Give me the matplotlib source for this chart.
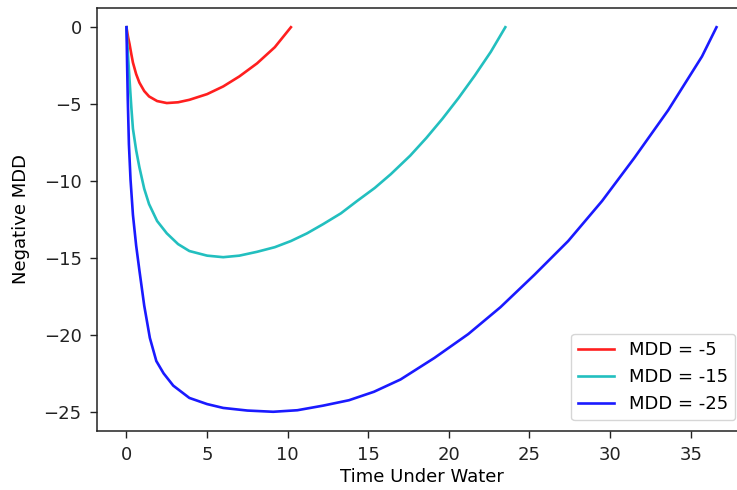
import matplotlib
matplotlib.use("Agg")
import matplotlib.pyplot as plt

t_red = [0, 0.05, 0.1, 0.19, 0.3, 0.4, 0.6, 0.8, 1.1, 1.4, 1.9, 2.5, 3.2, 3.9, 5.0, 6.0, 7.0, 8.1, 9.2, 10.2]
y_red = [0, -0.35, -0.65, -1.1, -1.75, -2.3, -3.05, -3.6, -4.15, -4.5, -4.8, -4.93, -4.88, -4.72, -4.35, -3.85, -3.2, -2.35, -1.3, 0]

t_cyan = [0, 0.05, 0.1, 0.2, 0.3, 0.4, 0.6, 0.8, 1.1, 1.4, 1.9, 2.5, 3.2, 3.9, 5.0, 6.0, 7.0, 8.1, 9.2, 10.2, 11.2, 12.2, 13.3, 14.3, 15.4, 16.4, 17.6, 18.6, 19.6, 20.6, 21.6, 22.6, 23.5]
y_cyan = [0, -1.0, -1.9, -3.6, -5.2, -6.6, -8.0, -9.1, -10.5, -11.5, -12.6, -13.4, -14.1, -14.55, -14.85, -14.95, -14.85, -14.6, -14.3, -13.9, -13.4, -12.8, -12.1, -11.3, -10.45, -9.55, -8.35, -7.2, -5.95, -4.6, -3.15, -1.6, 0]

t_blue = [0, 0.04, 0.08, 0.15, 0.25, 0.4, 0.6, 0.8, 1.1, 1.45, 1.85, 2.3, 2.9, 3.9, 5.0, 6.0, 7.5, 9.1, 10.6, 12.2, 13.8, 15.35, 17.0, 19.1, 21.2, 23.2, 25.3, 27.4, 29.5, 31.5, 33.6, 35.7, 36.6]
y_blue = [0, -2.5, -4.7, -7.6, -9.9, -12.2, -14.2, -15.8, -18.1, -20.2, -21.7, -22.5, -23.3, -24.1, -24.5, -24.75, -24.92, -25.0, -24.9, -24.6, -24.25, -23.7, -22.9, -21.5, -19.95, -18.2, -16.1, -13.9, -11.3, -8.5, -5.4, -1.9, 0]

labels = ["MDD = -5", "MDD = -15", "MDD = -25"]
colors = ["#ff1f1f", "#22bfbf", "#1a1aff"]

plt.rcParams['font.family'] = ['DejaVu Sans']
plt.rcParams['font.size'] = 13

fig = plt.figure(figsize=(7.37, 4.9), dpi=100)
ax = fig.add_axes([0.1316, 0.1204, 0.8806, 0.8633])
for tx, ty, lab, col in zip([t_red, t_cyan, t_blue], [y_red, y_cyan, y_blue], labels, colors):
    ax.plot(tx, ty, color=col, lw=1.9, label=lab)

ax.set_xlabel("Time Under Water", labelpad=3)
ax.set_ylabel("Negative MDD", labelpad=10)
ax.set_xticks([0, 5, 10, 15, 20, 25, 30, 35])
ax.set_yticks([0, -5, -10, -15, -20, -25])
ax.tick_params(length=5, width=1.0, pad=6, colors="#222222")
for s in ax.spines.values():
    s.set_linewidth(1.1)
    s.set_color("#222222")
ax.legend(loc="lower right", borderaxespad=0.6)
fig.savefig("out.png", dpi=100)
